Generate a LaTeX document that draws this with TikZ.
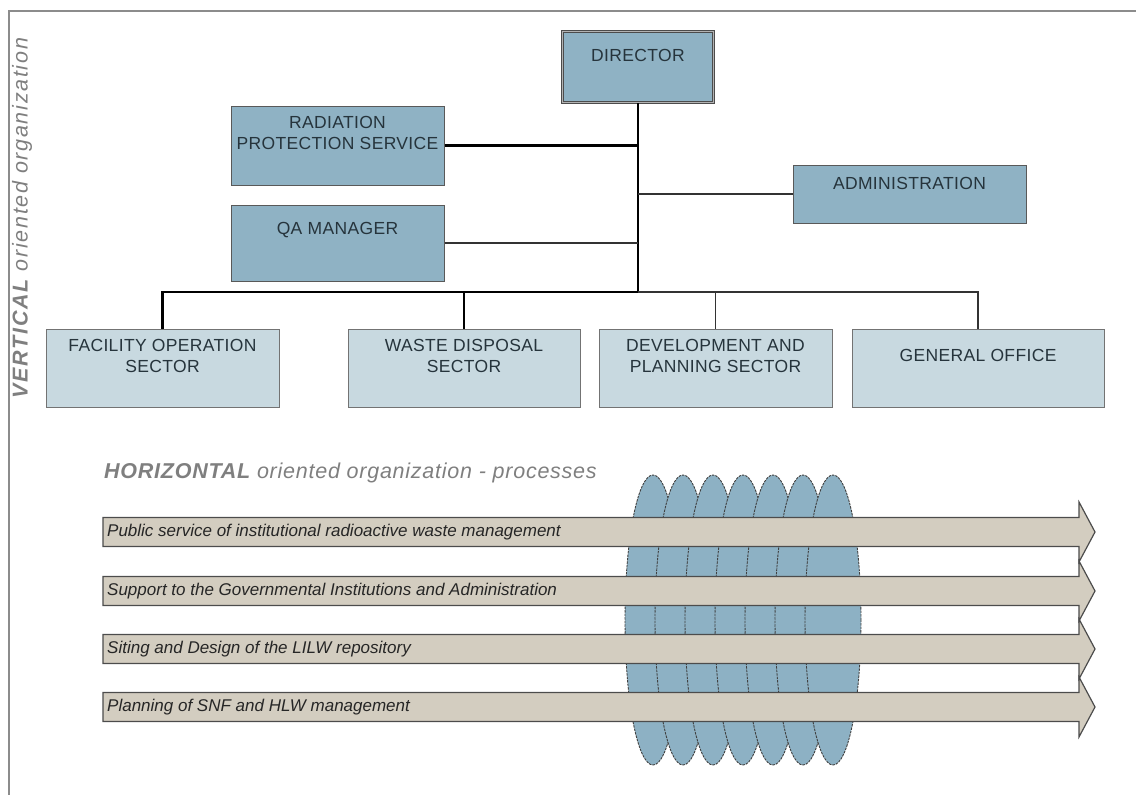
\documentclass[tikz,border=0pt]{standalone}
\usepackage{fontspec}
\setmainfont{Liberation Sans}

\definecolor{boxblue}{HTML}{8FB2C4}
\definecolor{secblue}{HTML}{C8D9E0}
\definecolor{bandgray}{HTML}{D3CDC0}
\definecolor{lensblue}{HTML}{8DB1C4}
\definecolor{inkdark}{HTML}{26343C}
\definecolor{labelgray}{HTML}{7F7F7F}

\begin{document}
\begin{tikzpicture}[x=1pt,y=1pt,
  topbox/.style={draw=black!65, line width=1pt, fill=boxblue, inner sep=0pt},
  secbox/.style={draw=black!55, line width=1pt, fill=secblue, inner sep=0pt},
  boxtext/.style={text=inkdark, align=center, inner sep=0pt, font=\fontsize{17.5}{21}\selectfont\addfontfeature{LetterSpace=2}},
  vlabel/.style={text=labelgray, inner sep=0pt, rotate=90, font=\itshape\fontsize{21.5}{25}\selectfont\addfontfeature{LetterSpace=8}},
  hlabel/.style={text=labelgray, inner sep=0pt, anchor=west, font=\itshape\fontsize{21.5}{25}\selectfont\addfontfeature{LetterSpace=3.5}},
  thickline/.style={black, line width=2.6pt},
  thinline/.style={black!80, line width=1.2pt},
  band/.style={draw=black!70, line width=1.2pt, fill=bandgray},
  lens/.style={draw=black!75, line width=0.9pt, dash pattern=on 2.5pt off 1pt, fill=lensblue},
  bandtext/.style={anchor=west, inner sep=0pt, text=black!85, font=\itshape\fontsize{17}{20}\selectfont}]
\useasboundingbox (0,0) rectangle (1136,-795);
\draw [black!45, line width=2pt] (8,-11) -- (1136,-11);
\draw [black!45, line width=2pt] (9,-11) -- (9,-795);

% vertical part
\node [topbox, draw=black!70, double=black!30, double distance=1.6pt, minimum width=151pt, minimum height=71pt] (dir) at (638,-67) {};
\node [boxtext] (dirT) at (638,-55) {DIRECTOR};
\node [topbox, minimum width=213pt, minimum height=79pt] (rps) at (337.5,-145.5) {};
\node [boxtext] (rpsT) at (337.5,-132.5) {RADIATION\\PROTECTION SERVICE};
\node [topbox, minimum width=213pt, minimum height=76pt] (qa) at (337.5,-243) {};
\node [boxtext] (qaT) at (337.5,-230) {QA MANAGER};
\node [topbox, minimum width=233pt, minimum height=58pt] (adm) at (909.5,-194) {};
\node [boxtext] (admT) at (909.5,-183) {ADMINISTRATION};
\node [secbox, minimum width=233pt, minimum height=78pt] (fac) at (162.5,-368) {};
\node [boxtext] (facT) at (162.5,-356) {FACILITY OPERATION\\SECTOR};
\node [secbox, minimum width=232pt, minimum height=78pt] (wst) at (464,-368) {};
\node [boxtext] (wstT) at (464,-356) {WASTE DISPOSAL\\SECTOR};
\node [secbox, minimum width=233pt, minimum height=78pt] (dev) at (715.5,-368) {};
\node [boxtext] (devT) at (715.5,-356) {DEVELOPMENT AND\\PLANNING SECTOR};
\node [secbox, minimum width=252pt, minimum height=78pt] (gen) at (978,-368) {};
\node [boxtext] (genT) at (978,-355) {GENERAL OFFICE};

\coordinate (bus) at (638,-292);
\draw [thickline] (dir.south) -- (bus) -- (fac.north |- bus) -- (fac.north);
\draw [thickline] (rps.east) -- (rps.east -| bus);
\draw [thinline] (qa.east) -- (qa.east -| bus);
\draw [thinline] (adm.west -| bus) -- (adm.west);
\draw [thickline] (wst.north |- bus) -- (wst.north);
\draw [thinline] (bus) -- (gen.north |- bus) -- (gen.north);
\draw [thinline] (dev.north |- bus) -- (dev.north);

\node [vlabel] (vert) at (22,-218) {\textbf{VERTICAL} oriented organization};

% horizontal part
\node [hlabel] (horiz) at (104,-473) {\textbf{HORIZONTAL} oriented organization - processes};
\foreach \k in {0,...,6}
  \draw [lens] (653+\k*30,-620) ellipse [x radius=28pt, y radius=145pt];
\foreach \yy/\txt [count=\i] in {-532/{Public service of institutional radioactive waste management},
    -591/{Support to the Governmental Institutions and Administration},
    -649/{Siting and Design of the LILW repository},
    -707/{Planning of SNF and HLW management}}
{
  \filldraw [band] (103,\yy+14.5) -- (1079,\yy+14.5) -- (1079,\yy+30) -- (1095,\yy)
    -- (1079,\yy-30) -- (1079,\yy-14.5) -- (103,\yy-14.5) -- cycle;
  \node [bandtext] (proc\i) at (107,\yy) {\txt};
}
\end{tikzpicture}
\end{document}
